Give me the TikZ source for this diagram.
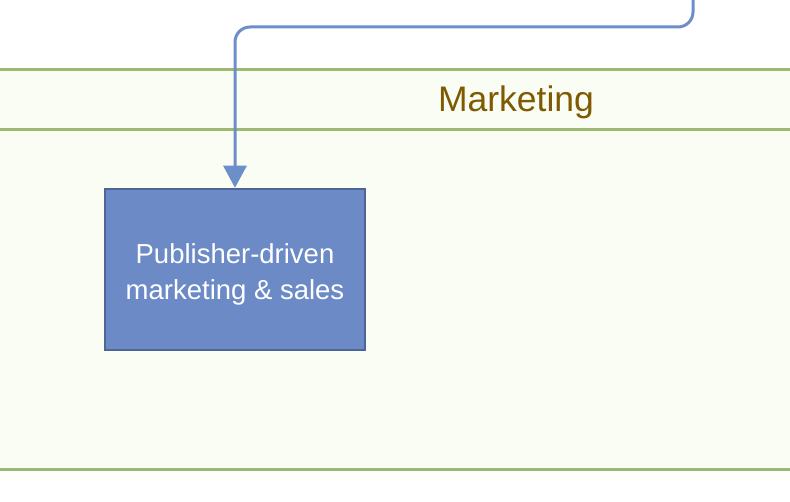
\documentclass[tikz,border=0pt]{standalone}
\usepackage{fontspec}
\setmainfont{Liberation Sans}
\usepackage{xcolor}
\definecolor{lanefill}{HTML}{F9FDF3}
\definecolor{laneline}{HTML}{9CB872}
\definecolor{lanetitle}{HTML}{7F5A00}
\definecolor{taskblue}{HTML}{6C8AC6}
\definecolor{taskedge}{HTML}{4F6596}
\definecolor{flowblue}{HTML}{6C8EC9}
\usetikzlibrary{arrows.meta}

\begin{document}
\begin{tikzpicture}[x=1pt, y=-1pt, every node/.style={font=\fontsize{27.5}{36}\selectfont}]
  \useasboundingbox (0,0) rectangle (790,502);

  % Lane
  \fill[lanefill] (0,70) rectangle (790,469);
  \draw[laneline, line width=3pt] (0,70) -- (790,70);
  \draw[laneline, line width=3pt] (0,130) -- (790,130);
  \draw[laneline, line width=3pt] (0,469) -- (790,469);
  \node[lanetitle, font=\fontsize{35.5}{40}\selectfont] (lanetitle) at (516,102) {Marketing};

  % Task
  \node[draw=taskedge, fill=taskblue, line width=2.5pt, text=white,
        minimum width=260pt, minimum height=161pt, inner sep=0pt] (sales) at (235,269.5)
        {\parbox{250pt}{\vspace*{9pt}\centering Publisher-driven\\marketing \& sales}};

  % Incoming flow
  \coordinate (from) at (693,0);
  \draw[flowblue, line width=3pt, rounded corners=15pt,
        -{Triangle[width=23pt, length=22pt]}]
    (from) -- (693,27) -- (235,27) -- (sales.north);
\end{tikzpicture}
\end{document}
